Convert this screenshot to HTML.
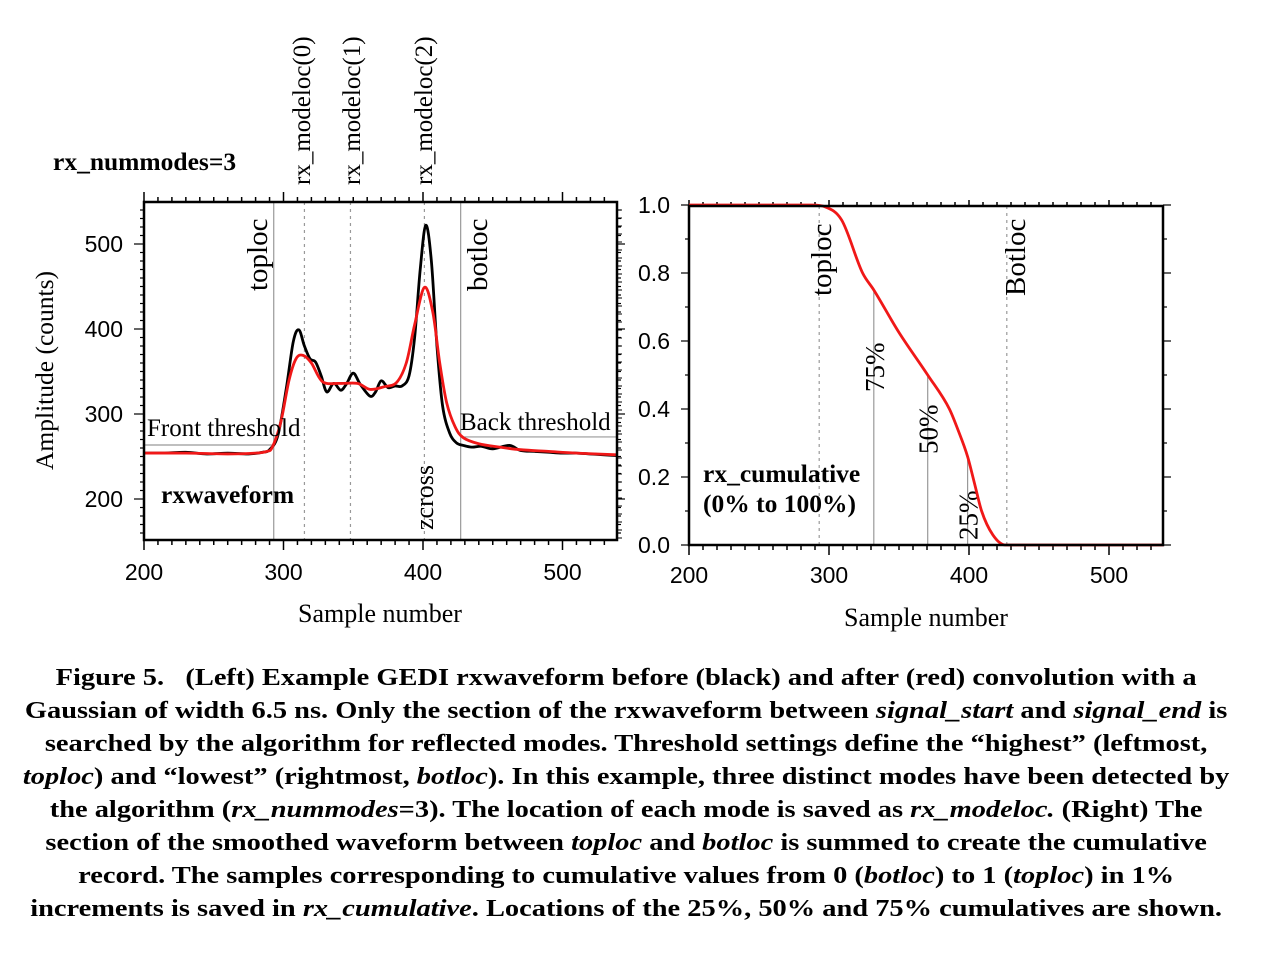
<!DOCTYPE html>
<html><head><meta charset="utf-8">
<style>
html,body{margin:0;padding:0;background:#fff;width:1268px;height:954px;overflow:hidden}
svg{position:absolute;left:0;top:0}
#cap{position:absolute;left:-9px;top:661px;width:1268px;text-align:center;font:bold 24.5px/33px "Liberation Serif",serif;color:#000;transform:scaleX(1.16);transform-origin:627px 0}
</style></head><body>
<svg id="chart" width="1268" height="660" xmlns="http://www.w3.org/2000/svg"></svg>
<div id="cap">Figure 5.&nbsp;&nbsp; (Left) Example GEDI rxwaveform before (black) and after (red) convolution with a<br>Gaussian of width 6.5 ns. Only the section of the rxwaveform between <i>signal_start</i> and <i>signal_end</i> is<br>searched by the algorithm for reflected modes. Threshold settings define the “highest” (leftmost,<br><i>toploc</i>) and “lowest” (rightmost, <i>botloc</i>). In this example, three distinct modes have been detected by<br>the algorithm (<i>rx_nummodes</i>=3). The location of each mode is saved as <i>rx_modeloc.</i> (Right) The<br>section of the smoothed waveform between <i>toploc</i> and <i>botloc</i> is summed to create the cumulative<br>record. The samples corresponding to cumulative values from 0 (<i>botloc</i>) to 1 (<i>toploc</i>) in 1%<br>increments is saved in <i>rx_cumulative</i>. Locations of the 25%, 50% and 75% cumulatives are shown.</div>
<script>
// ---- data ----
const rawX = [200,215,230,245,260,275,285,290,296,302,307,311,315,319,323,327,331,336,341,345,350,355,362,366,370,375,380,385,390,394,398,402,406,410,414,419,424,429,435,442,450,462,470,480,490,500,510,520,530,539];
const rawY = [254,254,255,253,254,253,255,258,275,330,385,399,380,365,361,345,326,336,328,335,348,335,321,326,339,331,333,333,345,390,470,522,480,380,310,278,266,263,261,262,259,263,257,256,255,254,254,253,252,251];
const smX = [200,230,260,280,288,292,298,304,309,314,320,328,340,353,362,372,381,388,394,401,407,412,417,423,429,440,455,470,490,510,539];
const smY = [254,254,253,254,256,261,290,340,365,369,360,338,336,336,329,332,337,360,405,449,420,360,313,285,272,265,261,258,256,254,252];
const cumX = [200,288,297,309,324,332,350,370.5,386,392,399,404,409,417,426,539];
const cumY = [1,1,0.995,0.956,0.8,0.75,0.625,0.5,0.4,0.34,0.26,0.18,0.1,0.03,0,0];
const modeLocs = [315,348,401];
const toploc = 293, botloc = 427, frontThr = 263.5, backThr = 273;
const pctLocs = [332,370.5,399];
const pctVals = [0.75,0.5,0.25];
const pctLabels = ['75%','50%','25%'];
const xTicks = [200,300,400,500];
const yTicksL = [200,300,400,500];
const yTicksR = [0,0.2,0.4,0.6,0.8,1.0];
const yTickLabR = ['0.0','0.2','0.4','0.6','0.8','1.0'];

// ---- axes ----
const L = {x0:144,x1:617,y0:202,y1:540};
const R = {x0:689,x1:1163,y0:206,y1:545};
const lx = v => 144 + (v-200)*1.395;
const ly = v => 499 - (v-200)*0.85;
const rx = v => 689 + (v-200)*1.4;
const ry = v => 545 - v*340;

const svg = document.getElementById('chart');
const NS = 'http://www.w3.org/2000/svg';
function el(tag, attrs, parent){
  const e = document.createElementNS(NS, tag);
  for (const k in attrs) e.setAttribute(k, attrs[k]);
  (parent||svg).appendChild(e);
  return e;
}
function txt(x,y,s,opts){
  const t = el('text',Object.assign({x:x,y:y},opts||{}));
  t.textContent = s;
  return t;
}
function smoothPath(xs, ys, fx, fy){
  const p = xs.map((v,i)=>[fx(v),fy(ys[i])]);
  let d = 'M'+p[0][0]+','+p[0][1];
  for (let i=0;i<p.length-1;i++){
    const p0=p[Math.max(0,i-1)], p1=p[i], p2=p[i+1], p3=p[Math.min(p.length-1,i+2)];
    const c1=[p1[0]+(p2[0]-p0[0])/6, p1[1]+(p2[1]-p0[1])/6];
    const c2=[p2[0]-(p3[0]-p1[0])/6, p2[1]-(p3[1]-p1[1])/6];
    d += ' C'+c1[0]+','+c1[1]+' '+c2[0]+','+c2[1]+' '+p2[0]+','+p2[1];
  }
  return d;
}
function monoPath(xs, ys, fx, fy){
  const n = xs.length, px = xs.map(fx), py = ys.map(fy);
  const dlt = [], m = [];
  for (let i=0;i<n-1;i++) dlt.push((py[i+1]-py[i])/(px[i+1]-px[i]));
  m[0]=dlt[0]; m[n-1]=dlt[n-2];
  for (let i=1;i<n-1;i++) m[i] = (dlt[i-1]*dlt[i]<=0)?0:(dlt[i-1]+dlt[i])/2;
  for (let i=0;i<n-1;i++){
    if (dlt[i]===0){m[i]=0;m[i+1]=0;continue;}
    const a=m[i]/dlt[i], b=m[i+1]/dlt[i], s=a*a+b*b;
    if (s>9){const t=3/Math.sqrt(s); m[i]=t*a*dlt[i]; m[i+1]=t*b*dlt[i];}
  }
  let d = 'M'+px[0]+','+py[0];
  for (let i=0;i<n-1;i++){
    const h = (px[i+1]-px[i])/3;
    d += ' C'+(px[i]+h)+','+(py[i]+m[i]*h)+' '+(px[i+1]-h)+','+(py[i+1]-m[i+1]*h)+' '+px[i+1]+','+py[i+1];
  }
  return d;
}
const serif = '"Liberation Serif",serif', sans = '"Liberation Sans",sans-serif';

// ===== LEFT CHART =====
const gL = el('g',{});


for (let v=200; v<=539; v+=10){
  const maj = v%100===0;
  const t1 = el('line',{x1:lx(v),x2:lx(v),y1:L.y1,y2:L.y1+(maj?10:5),stroke:'#000','stroke-width':1.5},gL);
  
  
  el('line',{x1:lx(v),x2:lx(v),y1:L.y0,y2:L.y0-(maj?10:5),stroke:'#000','stroke-width':1.5},gL);
}
for (let v=160; v<=549; v+=10){
  const maj = v%100===0;
  el('line',{x1:L.x0,x2:L.x0-(maj?10:4),y1:ly(v),y2:ly(v),stroke:'#000','stroke-width':1.2},gL);
  el('line',{x1:L.x1,x2:L.x1+(maj?8:4),y1:ly(v),y2:ly(v),stroke:'#000','stroke-width':1.2},gL);
}
xTicks.forEach(v=>{
  const t = txt(lx(v),580,String(v),{'font-family':sans,'font-size':23,'text-anchor':'middle'});
  
  
  gL.appendChild(t);
});
yTicksL.forEach(v=>{
  const t = txt(123,ly(v)+8,String(v),{'font-family':sans,'font-size':23,'text-anchor':'end'});
  
  
  gL.appendChild(t);
});
[toploc,botloc].forEach(v=>{
  const l = el('line',{x1:lx(v),x2:lx(v),y1:L.y0,y2:L.y1,stroke:'#999','stroke-width':1.2},gL);
  
  
});
modeLocs.forEach(v=>{
  const l = el('line',{x1:lx(v),x2:lx(v),y1:L.y0,y2:L.y1,stroke:'#999','stroke-width':1.2,'stroke-dasharray':'3,4'},gL);
  
  
});
const ft = el('line',{x1:L.x0,x2:lx(toploc),y1:ly(frontThr),y2:ly(frontThr),stroke:'#999','stroke-width':1.2},gL);


const bt = el('line',{x1:lx(botloc),x2:L.x1,y1:ly(backThr),y2:ly(backThr),stroke:'#999','stroke-width':1.2},gL);


const raw = el('path',{d:smoothPath(rawX,rawY,lx,ly),fill:'none',stroke:'#000','stroke-width':2.8},gL);


const sm = el('path',{d:smoothPath(smX,smY,lx,ly),fill:'none',stroke:'#f01818','stroke-width':2.8},gL);


el('rect',{x:L.x0,y:L.y0,width:L.x1-L.x0,height:L.y1-L.y0,fill:'none',stroke:'#000','stroke-width':2.5},gL);
function rot(x,y,s,name,opts){
  const t = txt(0,0,s,Object.assign({'font-family':serif,'font-size':29,transform:'translate('+x+','+y+') rotate(-90)'},opts||{}));
  
  
  return t;
}
gL.appendChild(rot(267,291,'toploc','toploc-label'));
gL.appendChild(rot(487,291,'botloc','botloc-label'));
gL.appendChild(rot(433,530,'zcross','zcross-label',{'font-size':26}));
gL.appendChild(rot(310,185,'rx_modeloc(0)','modeloc0-label',{'font-size':25}));
gL.appendChild(rot(360,185,'rx_modeloc(1)','modeloc1-label',{'font-size':25}));
gL.appendChild(rot(432,185,'rx_modeloc(2)','modeloc2-label',{'font-size':25}));
gL.appendChild(rot(53,470,'Amplitude (counts)','y-axis-title',{'font-size':25.5}));
let t;
t = txt(147,436,'Front threshold',{'font-family':serif,'font-size':25});   gL.appendChild(t);
t = txt(460,430,'Back threshold',{'font-family':serif,'font-size':25});   gL.appendChild(t);
t = txt(161,503,'rxwaveform',{'font-family':serif,'font-size':25.5,'font-weight':'bold'});   gL.appendChild(t);
t = txt(53,170,'rx_nummodes=3',{'font-family':serif,'font-size':25.5,'font-weight':'bold'});   gL.appendChild(t);
t = txt(380,622,'Sample number',{'font-family':serif,'font-size':26,'text-anchor':'middle'});   gL.appendChild(t);

// ===== RIGHT CHART =====
const gR = el('g',{});


for (let v=200; v<=539; v+=10){
  const maj = v%100===0;
  el('line',{x1:rx(v),x2:rx(v),y1:R.y1,y2:R.y1+(maj?10:5),stroke:'#000','stroke-width':1.5},gR);
  el('line',{x1:rx(v),x2:rx(v),y1:R.y0,y2:R.y0-(maj?6:4),stroke:'#000','stroke-width':1.5},gR);
}
for (let v=0; v<=1.001; v+=0.1){
  const maj = Math.round(v*10)%2===0;
  el('line',{x1:R.x0,x2:R.x0-(maj?8:4),y1:ry(v),y2:ry(v),stroke:'#000','stroke-width':1.2},gR);
  el('line',{x1:R.x1,x2:R.x1+(maj?8:4),y1:ry(v),y2:ry(v),stroke:'#000','stroke-width':1.2},gR);
}
for (let y=210; y<545; y+=8){ el('line',{x1:618,x2:622,y1:y,y2:y,stroke:'#000','stroke-width':1},gR); }
xTicks.forEach(v=>{
  const t = txt(rx(v),583,String(v),{'font-family':sans,'font-size':23,'text-anchor':'middle'});
  
  
  gR.appendChild(t);
});
yTicksR.forEach((v,i)=>{
  const t = txt(670,ry(v)+8,yTickLabR[i],{'font-family':sans,'font-size':23,'text-anchor':'end'});
  
  
  gR.appendChild(t);
});
[toploc,botloc].forEach(v=>{
  const l = el('line',{x1:rx(v),x2:rx(v),y1:R.y0,y2:R.y1,stroke:'#999','stroke-width':1.2,'stroke-dasharray':'3,4'},gR);
  
  
});
pctLocs.forEach((v,i)=>{
  const l = el('line',{x1:rx(v),x2:rx(v),y1:ry(pctVals[i]),y2:R.y1,stroke:'#999','stroke-width':1.2},gR);
  
  
  gR.appendChild(rot(rx(v)+10,[392,454,540][i],pctLabels[i],'percentile-label',{'font-size':27}));
});
const cum = el('path',{d:monoPath(cumX,cumY,rx,ry),fill:'none',stroke:'#f01818','stroke-width':2.8},gR);


el('rect',{x:R.x0,y:R.y0,width:R.x1-R.x0,height:R.y1-R.y0,fill:'none',stroke:'#000','stroke-width':2.5},gR);
gR.appendChild(rot(831,296,'toploc','toploc-label'));
gR.appendChild(rot(1025,296,'Botloc','botloc-label'));
t = txt(703,482,'rx_cumulative',{'font-family':serif,'font-size':25.5,'font-weight':'bold'});   gR.appendChild(t);
t = txt(703,512,'(0% to 100%)',{'font-family':serif,'font-size':25.5,'font-weight':'bold'});   gR.appendChild(t);
t = txt(926,626,'Sample number',{'font-family':serif,'font-size':26,'text-anchor':'middle'});   gR.appendChild(t);
</script>
</body></html>
